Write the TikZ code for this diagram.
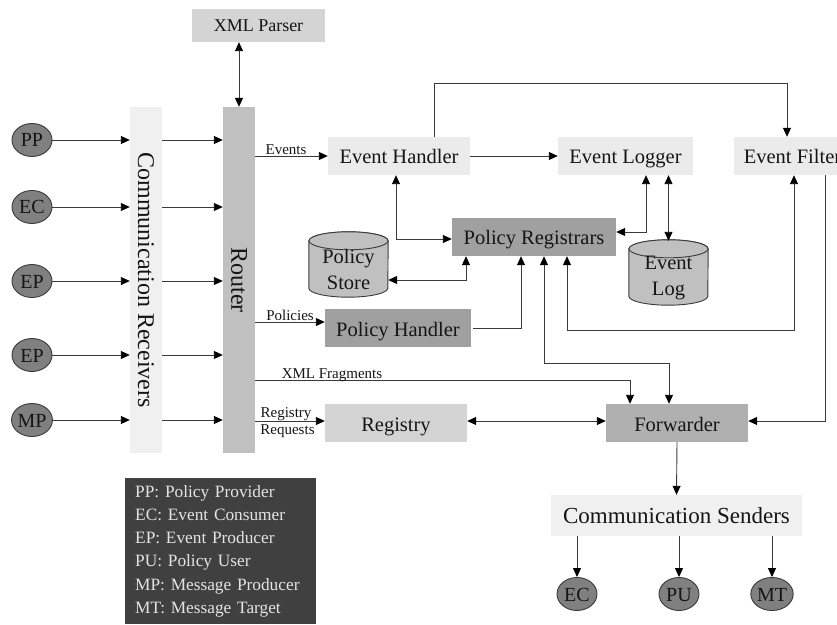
\documentclass[tikz,border=0pt]{standalone}
\usepackage{fontspec}
\setmainfont{Liberation Serif}
\usetikzlibrary{arrows.meta,calc,shapes.geometric}
\definecolor{cline}{HTML}{3A3A3A}
\definecolor{cxml}{HTML}{D4D4D4}
\definecolor{crecv}{HTML}{F0F0F0}
\definecolor{crouter}{HTML}{C0C0C0}
\definecolor{cev}{HTML}{EBEBEB}
\definecolor{cpr}{HTML}{A0A0A0}
\definecolor{cfw}{HTML}{B0B0B0}
\definecolor{creg}{HTML}{D4D4D4}
\definecolor{ccs}{HTML}{F0F0F0}
\definecolor{cact}{HTML}{808080}
\definecolor{ccyl}{HTML}{C0C0C0}
\definecolor{cleg}{HTML}{404040}
\definecolor{clegtxt}{HTML}{E4E4E4}
\definecolor{ctxt}{HTML}{151515}
\newcommand\fmain{\fontsize{20.5bp}{26bp}\selectfont}
\newcommand\fsmall{\fontsize{15bp}{18bp}\selectfont}
\newcommand\fxml{\fontsize{18bp}{22bp}\selectfont}
\newcommand\fvert{\fontsize{24bp}{28bp}\selectfont}
\newcommand\fcs{\fontsize{23bp}{27bp}\selectfont}
\newcommand\fact{\fontsize{20bp}{24bp}\selectfont}
\newcommand\fleg{\fontsize{17.3bp}{23.2bp}\selectfont}
\begin{document}
\begin{tikzpicture}[x=1bp,y=-1bp,
  every node/.style={inner sep=0pt, text=ctxt},
  >={Triangle[length=9bp,width=8bp,color=black]},
  box/.style={rectangle, draw=none, minimum height=38bp, font=\fmain, text height=18bp, text depth=2bp},
  bar/.style={rectangle, draw=none, minimum width=32bp, minimum height=346bp},
  actor/.style={ellipse, draw=cline, line width=0.9bp, fill=cact, minimum width=40bp, minimum height=33bp, font=\fact, text height=16bp, text depth=2bp},
  cylbox/.style={rectangle, draw=none, minimum width=79bp, minimum height=65bp},
  cylst/.style={draw=cline, line width=0.9bp, fill=ccyl},
  lbl/.style={font=\fsmall},
  arr/.style={draw=cline, line width=0.9bp, ->},
  dbl/.style={draw=cline, line width=0.9bp, <->}
]
\useasboundingbox (0,0) rectangle (837,625);
\clip (0,0) rectangle (837,625);

% main nodes
\node[box, fill=cxml, minimum width=133bp, minimum height=33bp, font=\fxml, text height=15bp, text depth=2bp] (xml) at (258.5,25.5) {XML Parser};
\node[bar, fill=crecv] (recv) at (146,280) {};
\node[rotate=-90, font=\fvert] (recvt) at (146,280) {Communication Receivers};
\node[bar, fill=crouter] (router) at (239,280) {};
\node[rotate=-90, font=\fvert] (routert) at (239,280) {Router};

\node[actor] (pp) at (32,140) {PP};
\node[actor] (ec) at (32,207) {EC};
\node[actor] (epa) at (32,281) {EP};
\node[actor] (epb) at (32,355) {EP};
\node[actor] (mp) at (32,420) {MP};

\node[box, fill=cev, minimum width=142bp] (eh) at (399,156) {Event Handler};
\node[box, fill=cev, minimum width=135bp] (el) at (625.5,156) {Event Logger};
\node[box, fill=cev, minimum width=117bp] (ef) at (792.5,156) {Event Filter};
\node[box, fill=cpr, minimum width=164bp] (pr) at (534,237) {Policy Registrars};
\node[box, fill=cpr, minimum width=146bp] (ph) at (398,328) {Policy Handler};
\node[box, fill=creg, minimum width=142bp] (reg) at (396,423) {Registry};
\node[box, fill=cfw, minimum width=142bp] (fw) at (677,423) {Forwarder};
\node[box, fill=ccs, minimum width=251bp, minimum height=41bp, font=\fcs] (cs) at (676.5,515.5) {Communication Senders};

\node[actor] (ec2) at (577,594) {EC};
\node[actor] (pu) at (679,594) {PU};
\node[actor] (mt) at (772,594) {MT};

% cylinders
\node[cylbox] (ps) at (348.5,264.5) {};
\filldraw[cylst] ([yshift=-9bp]ps.north west) -- ([yshift=9bp]ps.south west)
  arc[start angle=180, end angle=360, x radius=39.5bp, y radius=9bp]
  -- ([yshift=-9bp]ps.north east)
  arc[start angle=0, end angle=180, x radius=39.5bp, y radius=9bp] -- cycle;
\draw[cylst] ([yshift=-9bp]ps.north) ellipse[x radius=39.5bp, y radius=9bp];
\node[font=\fmain, align=center] (pst) at (348.5,269) {Policy\\Store};

\node[cylbox] (elog) at (668.5,272.5) {};
\filldraw[cylst] ([yshift=-9bp]elog.north west) -- ([yshift=9bp]elog.south west)
  arc[start angle=180, end angle=360, x radius=39.5bp, y radius=9bp]
  -- ([yshift=-9bp]elog.north east)
  arc[start angle=0, end angle=180, x radius=39.5bp, y radius=9bp] -- cycle;
\draw[cylst] ([yshift=-9bp]elog.north) ellipse[x radius=39.5bp, y radius=9bp];
\node[font=\fmain, align=center] (elogt) at (668.5,278) {Event\\Log};

% legend
\node[fill=cleg, anchor=north west, minimum width=191bp, minimum height=146bp,
      text width=171bp, inner xsep=10bp, align=left, font=\fleg, text=clegtxt] (leg) at (125,478)
  {PP: Policy Provider\\EC: Event Consumer\\EP: Event Producer\\PU: Policy User\\MP: Message Producer\\MT: Message Target};

% connectors: inputs
\foreach \n in {pp,ec,epa,epb,mp} {
  \draw[arr] (\n.east) -- (\n -| recv.west);
  \draw[arr] (\n -| recv.east) -- (\n -| router.west);
}
\draw[dbl] (router.north) -- (router.north |- xml.south);

% router outputs
\draw[arr] (router.east |- eh.west) -- (eh.west);
\node[lbl, anchor=south] (levents) at (286,155) {Events};
\draw[arr] ([yshift=6bp]router.east |- ph.west) -- ([yshift=6bp]ph.west);
\node[lbl, anchor=south] (lpol) at (290,321) {Policies};
\coordinate (xf) at ([yshift=-100bp]router.east);
\draw[arr] (xf) -| ([xshift=-47bp]fw.north);
\node[lbl, anchor=base] (lxml) at (332,378.5) {XML Fragments};
\draw[arr] ([yshift=2bp]router.east |- reg.west) -- ([yshift=2bp]reg.west);
\node[lbl, anchor=base] (lreg1) at (286,417) {Registry};
\node[lbl, anchor=base] (lreg2) at (287.5,434) {Requests};

% event path
\draw[arr] (eh.east) -- (el.west);
\draw[arr] ([xshift=35bp]eh.north) -- ++(0,-53) -| ([xshift=-5.5bp]ef.north);
\draw[dbl] ([xshift=20.5bp]el.south) |- ([yshift=5bp]pr.east);
\draw[dbl] (el.south -| elog.north) -- ([yshift=-1bp]elog.north);
\draw[dbl] ([xshift=-3bp]eh.south) |- ([yshift=-2bp]pr.west);
\draw[dbl] ([yshift=-15.5bp]ps.east) -| ([xshift=-68bp]pr.south);
\draw[arr] ([xshift=2bp]ph.east) -| ([xshift=-13bp]pr.south);
\draw[dbl] ([xshift=10bp]pr.south) -- ++(0,107) -| ([xshift=-8bp]fw.north);
\draw[dbl] ([xshift=33bp]pr.south) -- ++(0,74) -| ([xshift=1.5bp]ef.south);
\draw[arr] ([xshift=32.5bp]ef.south) |- ([yshift=2bp]fw.east);
\draw[dbl] ([yshift=2bp]reg.east) -- ([yshift=2bp]fw.west);
\draw[arr] (fw.south) -- (cs.north);
\draw[arr] (ec2.north |- cs.south) -- (ec2.north);
\draw[arr] (pu.north |- cs.south) -- (pu.north);
\draw[arr] (mt.north |- cs.south) -- (mt.north);
\end{tikzpicture}
\end{document}
